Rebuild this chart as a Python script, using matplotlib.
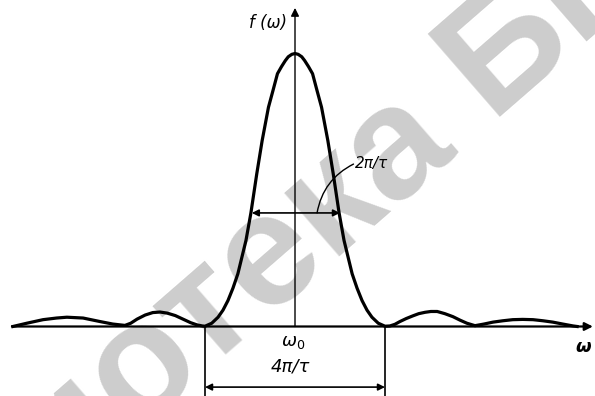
import numpy as np
import matplotlib
matplotlib.use("Agg")
import matplotlib.pyplot as plt
from matplotlib.transforms import IdentityTransform
from matplotlib.font_manager import FontProperties

# Spectrum curve; x in units of pi/tau around omega_0, f normalised to peak
x_pts = [-6.27, -5.96, -5.60, -5.30, -5.07, -4.71, -4.33, -4.05, -3.89, -3.78, -3.65,
         -3.51, -3.33, -3.16, -3.00, -2.84, -2.66, -2.49, -2.32, -2.18, -2.06, -2.00,
         -1.85, -1.71, -1.60, -1.49, -1.38, -1.27, -1.09, -0.98, -0.85, -0.73, -0.59,
         -0.49, -0.39, -0.30, -0.215, -0.15, -0.07, 0.0,
         0.07, 0.15, 0.215, 0.30, 0.39, 0.49, 0.59, 0.73, 0.85, 0.98, 1.09, 1.27,
         1.38, 1.49, 1.60, 1.71, 1.85, 2.00, 2.11, 2.22, 2.33, 2.47, 2.62, 2.75,
         2.89, 3.02, 3.16, 3.33, 3.51, 3.67, 3.82, 4.00, 4.20, 4.40, 4.62, 4.84,
         5.06, 5.29, 5.51, 5.73, 5.95, 6.18, 6.27]
f_pts = [0.000, 0.012, 0.025, 0.031, 0.034, 0.031, 0.018, 0.009, 0.006, 0.004, 0.012,
         0.027, 0.042, 0.051, 0.053, 0.049, 0.040, 0.027, 0.014, 0.006, 0.002, 0.001,
         0.012, 0.034, 0.060, 0.095, 0.140, 0.193, 0.315, 0.416, 0.559, 0.681, 0.803,
         0.864, 0.926, 0.952, 0.974, 0.988, 0.997, 1.000,
         0.997, 0.988, 0.974, 0.952, 0.926, 0.864, 0.803, 0.681, 0.559, 0.416, 0.315, 0.193,
         0.140, 0.095, 0.060, 0.034, 0.012, 0.001, 0.002, 0.008, 0.018, 0.029, 0.039, 0.047,
         0.052, 0.055, 0.055, 0.047, 0.036, 0.023, 0.012, 0.003, 0.009, 0.016, 0.021, 0.025,
         0.026, 0.025, 0.021, 0.016, 0.009, 0.002, 0.000]

half_level = 0.416          # level of the 2pi/tau arrow
half_edges = [-0.96, 1.00]  # where that arrow meets the curve
zero_edges = [-2.0, 2.0]    # first zeros, 4pi/tau apart

fig = plt.figure(figsize=(5.95, 3.96), dpi=100)
ax = fig.add_axes([0, 0, 1, 1])
ax.set_xlim(-6.556, 6.667)
ax.set_ylim(-0.2546, 1.196)
ax.axis("off")

# watermark, placed so the bottom-left corner of the second "Б" sits at (500, 117) px
wm_text = "Библиотека БГУИР"
wm_angle = 41
wm_font = FontProperties(family="Liberation Sans", weight="bold", size=115)
renderer = fig.canvas.get_renderer()
pre_w, _, _ = renderer.get_text_width_height_descent("Библиотека ", wm_font, ismath=False)
corner = np.array([500.0, 396 - 117.0])
direction = np.array([np.cos(np.radians(wm_angle)), np.sin(np.radians(wm_angle))])
start = corner - (pre_w + 10) * direction
ax.text(start[0], start[1], wm_text, transform=IdentityTransform(),
        rotation=wm_angle, rotation_mode="anchor", ha="left", va="baseline",
        fontproperties=wm_font, color="#cdcdcd", zorder=0, clip_on=False)

# axes with arrows
ax.annotate("", xy=(6.62, 0), xytext=(-6.29, 0),
            arrowprops=dict(arrowstyle="-|>", color="black", lw=1.6,
                            mutation_scale=12, shrinkA=0, shrinkB=0), zorder=2)
ax.annotate("", xy=(0, 1.167), xytext=(0, 0),
            arrowprops=dict(arrowstyle="-|>", color="black", lw=1.0,
                            mutation_scale=12, shrinkA=0, shrinkB=0), zorder=2)

ax.plot(x_pts, f_pts, color="black", lw=2.3, solid_joinstyle="round", zorder=3)

# 2pi/tau width marker
ax.annotate("", xy=(half_edges[0], half_level), xytext=(half_edges[1], half_level),
            arrowprops=dict(arrowstyle="<|-|>", color="black", lw=1.2,
                            mutation_scale=10, shrinkA=0, shrinkB=0), zorder=2)
ax.annotate("", xy=(0.49, half_level), xytext=(1.30, 0.595),
            arrowprops=dict(arrowstyle="-", color="black", lw=1.0,
                            connectionstyle="arc3,rad=0.25", shrinkA=0, shrinkB=0), zorder=2)
ax.text(1.33, 0.598, "2π/τ", fontsize=11, style="italic", ha="left", va="center", zorder=4)

# 4pi/tau dimension
for xe in zero_edges:
    ax.plot([xe, xe], [0, -0.26], color="black", lw=1.2, zorder=2)
ax.annotate("", xy=(zero_edges[0], -0.222), xytext=(zero_edges[1], -0.222),
            arrowprops=dict(arrowstyle="<|-|>", color="black", lw=1.2,
                            mutation_scale=10, shrinkA=0, shrinkB=0), zorder=2)

ax.text(-0.18, 1.112, "f (ω)", fontsize=12, style="italic", ha="right", va="center", zorder=4)
ax.text(-0.04, -0.057, r"$\omega_0$", fontsize=13, ha="center", va="center", zorder=4)
ax.text(-0.11, -0.148, "4π/τ", fontsize=13, style="italic", ha="center", va="center", zorder=4)
ax.text(6.4, -0.075, "ω", fontsize=13, style="italic", fontweight="bold",
        ha="center", va="center", zorder=4)

fig.savefig("out.png", dpi=100)
